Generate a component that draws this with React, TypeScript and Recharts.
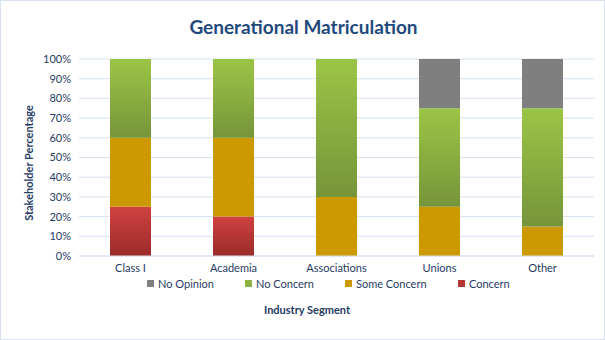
import React from 'react';
import { BarChart, Bar, XAxis, YAxis, CartesianGrid } from 'recharts';

const categories = ['Class I', 'Academia', 'Associations', 'Unions', 'Other'];
const concern = [25, 20, 0, 0, 0];
const someConcern = [35, 40, 30, 25, 15];
const noConcern = [40, 40, 70, 50, 60];
const noOpinion = [0, 0, 0, 25, 25];
const yTicks = [0, 10, 20, 30, 40, 50, 60, 70, 80, 90, 100];

const data = categories.map((name, i) => ({
  name,
  concern: concern[i],
  someConcern: someConcern[i],
  noConcern: noConcern[i],
  noOpinion: noOpinion[i],
}));

const textColor = '#1f3b64';
const font = 'Lato, "Open Sans", sans-serif';

const legendItems = [
  { label: 'No Opinion', color: '#7f7f7f', left: 147 },
  { label: 'No Concern', color: '#8db043', left: 245 },
  { label: 'Some Concern', color: '#cc9a00', left: 345 },
  { label: 'Concern', color: '#b53535', left: 458 },
];

const App: React.FC = () => {
  return (
    <div
      style={{
        position: 'absolute',
        left: 0,
        top: 0,
        width: 605,
        height: 340,
        background: '#fff',
        boxSizing: 'border-box',
        border: '1px solid #d6e2f0',
        fontFamily: font,
      }}
    >
      <div
        style={{
          position: 'absolute',
          left: 0,
          top: 14,
          width: 605,
          textAlign: 'center',
          fontSize: 19,
          fontWeight: 'bold',
          color: '#1f497d',
        }}
      >
        Generational Matriculation
      </div>
      <div
        style={{
          position: 'absolute',
          left: 27,
          top: 162,
          transform: 'translate(-50%, -50%) rotate(-90deg)',
          whiteSpace: 'nowrap',
          fontSize: 11,
          fontWeight: 'bold',
          color: textColor,
        }}
      >
        Stakeholder Percentage
      </div>
      <div style={{ position: 'absolute', left: -1, top: -1 }}>
        <BarChart
          width={605}
          height={340}
          data={data}
          margin={{ top: 59, right: 11, bottom: 54, left: 34 }}
          barSize={41}
        >
          <defs>
            <linearGradient id="gRed" x1="0" y1="0" x2="0" y2="1">
              <stop offset="0%" stopColor="#cf4240" />
              <stop offset="100%" stopColor="#9a2b29" />
            </linearGradient>
            <linearGradient id="gGreen" x1="0" y1="0" x2="0" y2="1">
              <stop offset="0%" stopColor="#9bc546" />
              <stop offset="100%" stopColor="#76953a" />
            </linearGradient>
          </defs>
          <CartesianGrid vertical={false} stroke="#d6e2f0" strokeWidth={1} />
          <XAxis
            dataKey="name"
            height={30}
            axisLine={{ stroke: '#d6e2f0' }}
            tickLine={false}
            tick={{ fill: textColor, fontSize: 11, fontFamily: font }}
            tickMargin={2}
          />
          <YAxis
            width={45}
            domain={[0, 100]}
            ticks={yTicks}
            tickFormatter={(v: number) => `${v}%`}
            axisLine={false}
            tickLine={false}
            tick={{ fill: textColor, fontSize: 11, fontFamily: font }}
            interval={0}
          />
          <Bar dataKey="concern" stackId="a" fill="url(#gRed)" isAnimationActive={false} />
          <Bar dataKey="someConcern" stackId="a" fill="#cc9a00" isAnimationActive={false} />
          <Bar dataKey="noConcern" stackId="a" fill="url(#gGreen)" isAnimationActive={false} />
          <Bar dataKey="noOpinion" stackId="a" fill="#7f7f7f" isAnimationActive={false} />
        </BarChart>
      </div>
      {legendItems.map((it) => (
        <div
          key={it.label}
          style={{
            position: 'absolute',
            left: it.left - 1,
            top: 276,
            display: 'flex',
            alignItems: 'center',
            fontSize: 11,
            color: textColor,
            whiteSpace: 'nowrap',
          }}
        >
          <span
            style={{ display: 'inline-block', width: 7, height: 7, background: it.color, marginRight: 4 }}
          />
          {it.label}
        </div>
      ))}
      <div
        style={{
          position: 'absolute',
          left: 0,
          top: 302,
          width: 612,
          textAlign: 'center',
          fontSize: 11,
          fontWeight: 'bold',
          color: textColor,
        }}
      >
        Industry Segment
      </div>
    </div>
  );
};

export default App;
